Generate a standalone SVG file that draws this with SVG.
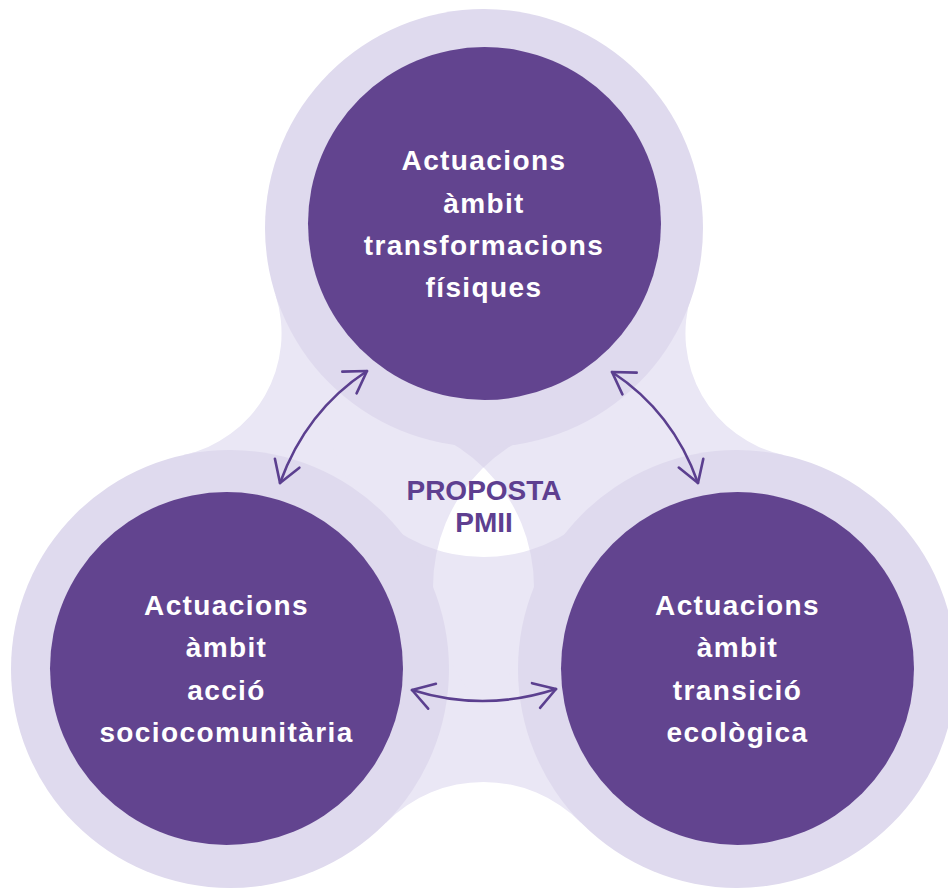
<svg xmlns="http://www.w3.org/2000/svg" width="948" height="889" viewBox="0 0 948 889">
<style>
.ring{fill:#dfdaee}
.dark{fill:#62448f}
.lt{fill:#eae7f5}
.nt{font-family:"Liberation Sans",Arial,sans-serif;font-weight:700;font-size:28px;fill:#ffffff;text-anchor:middle;letter-spacing:1.4px}
.ct{font-family:"Liberation Sans",Arial,sans-serif;font-weight:700;font-size:28px;fill:#5e3f90;text-anchor:middle}
.arr{fill:none;stroke:#5b3f8f;stroke-width:2.6;stroke-linecap:round}
</style>
<defs>
<marker id="ah" viewBox="-30 -20 40 40" markerWidth="40" markerHeight="40" refX="0" refY="0" markerUnits="userSpaceOnUse" orient="auto-start-reverse">
<path d="M -21 -13 L 0 0 L -21 13" fill="none" stroke="#5b3f8f" stroke-width="2.6" stroke-linecap="round" stroke-linejoin="round"/>
</marker>
<clipPath id="cc"><circle cx="483.5" cy="515" r="125"/></clipPath>
<clipPath id="vl"><circle cx="367" cy="587" r="167"/></clipPath>
<clipPath id="vr"><circle cx="600" cy="587" r="167"/></clipPath>
</defs>
<rect width="948" height="889" fill="#ffffff"/>
<g id="background">
<path class="lt" d="M275.5,295 A124.5,124.5 0 0 1 183.5,455 L230,669 L386,822.7 A137,137 0 0 1 581,822.7 L737,669 L783.5,455 A124.5,124.5 0 0 1 691.5,295 L484,228 Z"/>
<g clip-path="url(#cc)">
<circle class="ring" cx="483.5" cy="399" r="158"/>
<circle class="ring" cx="367" cy="587" r="167"/>
<circle class="ring" cx="600" cy="587" r="167"/>
</g>
<circle class="lt" cx="483.5" cy="399" r="158" clip-path="url(#vl)"/>
<circle class="lt" cx="483.5" cy="399" r="158" clip-path="url(#vr)"/>
<circle class="lt" cx="367" cy="587" r="167" clip-path="url(#vr)"/>
<g clip-path="url(#vl)"><circle fill="#ffffff" cx="483.5" cy="399" r="158" clip-path="url(#vr)"/></g>
</g>
<g id="node-top">
<circle class="ring" cx="484" cy="228" r="219"/>
<circle class="dark" cx="484.5" cy="223.5" r="176.5"/>
<text class="nt" x="484" y="170">Actuacions</text>
<text class="nt" x="484" y="212.5">àmbit</text>
<text class="nt" x="484" y="254.5">transformacions</text>
<text class="nt" x="484" y="297">físiques</text>
</g>
<g id="node-left">
<circle class="ring" cx="230" cy="669" r="219"/>
<circle class="dark" cx="226.5" cy="668.5" r="176.5"/>
<text class="nt" x="226.5" y="615">Actuacions</text>
<text class="nt" x="226.5" y="657">àmbit</text>
<text class="nt" x="226.5" y="699.5">acció</text>
<text class="nt" x="226.5" y="742">sociocomunitària</text>
</g>
<g id="node-right">
<circle class="ring" cx="737" cy="669" r="219"/>
<circle class="dark" cx="737.5" cy="668.5" r="176.5"/>
<text class="nt" x="737.5" y="615">Actuacions</text>
<text class="nt" x="737.5" y="657">àmbit</text>
<text class="nt" x="737.5" y="699.5">transició</text>
<text class="nt" x="737.5" y="742">ecològica</text>
</g>
<g id="node-center">
<text class="ct" x="484" y="500">PROPOSTA</text>
<text class="ct" x="484" y="532">PMII</text>
</g>
<g id="connectors">
<path class="arr" d="M367,371 Q306,411 280,483" marker-start="url(#ah)" marker-end="url(#ah)"/>
<path class="arr" d="M612,372 Q673,412 698,483" marker-start="url(#ah)" marker-end="url(#ah)"/>
<path class="arr" d="M412,690 Q484,712.5 556,689" marker-start="url(#ah)" marker-end="url(#ah)"/>
</g>
</svg>
